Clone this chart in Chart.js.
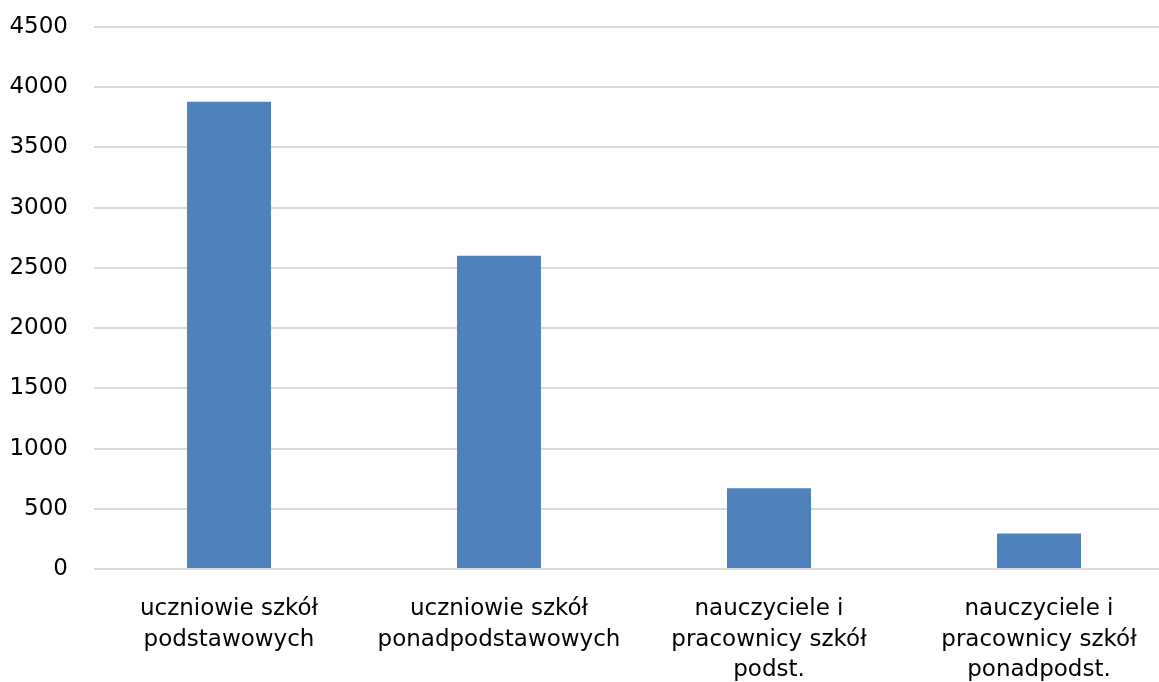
<!DOCTYPE html>
<html>
<head>
<meta charset="utf-8">
<script src="https://cdn.jsdelivr.net/npm/chart.js@4/dist/chart.umd.min.js"></script>
<style>
  html, body { margin: 0; padding: 0; background: #fff; overflow: hidden; }
  #wrap { position: relative; width: 1174px; height: 682px; }
</style>
</head>
<body>
<div id="wrap"><canvas id="chart"></canvas></div>
<script>
// Categories (multi-line labels) and their values
const categories = [
  ['uczniowie szkół', 'podstawowych'],
  ['uczniowie szkół', 'ponadpodstawowych'],
  ['nauczyciele i', 'pracownicy szkół', 'podst.'],
  ['nauczyciele i', 'pracownicy szkół', 'ponadpodst.']
];
const values = [3880, 2600, 670, 295];
const yTicks = [0, 500, 1000, 1500, 2000, 2500, 3000, 3500, 4000, 4500];

const FONT = { family: '"DejaVu Sans", Verdana, sans-serif', size: 23 };

new Chart(document.getElementById('chart'), {
  type: 'bar',
  data: {
    labels: categories,
    datasets: [{
      data: values,
      backgroundColor: '#4f81bd',
      borderWidth: 0,
      barPercentage: 1,
      categoryPercentage: 0.311
    }]
  },
  options: {
    responsive: true,
    maintainAspectRatio: false,
    animation: false,
    layout: { padding: { top: 27, right: 0, bottom: 0, left: 0 } },
    plugins: { legend: { display: false }, tooltip: { enabled: false } },
    scales: {
      x: {
        grid: { display: false, drawTicks: false },
        border: { display: false },
        ticks: {
          color: '#000',
          font: { ...FONT, lineHeight: 1.33 },
          padding: 25,
          maxRotation: 0,
          autoSkip: false
        },
        afterFit: (s) => {
          s.height = 113;
          s.paddingLeft = 0; s.paddingRight = 0;
          s.paddingTop = 0; s.paddingBottom = 0;
        }
      },
      y: {
        min: 0,
        max: 4500,
        afterBuildTicks: (s) => { s.ticks = yTicks.map(v => ({ value: v })); },
        grid: { color: '#d9d9d9', lineWidth: 2, drawTicks: false },
        border: { display: false },
        ticks: {
          color: '#000',
          font: FONT,
          padding: 26,
          callback: (v) => String(v)
        },
        afterFit: (s) => {
          s.width = 94;
          s.paddingTop = 0; s.paddingBottom = 0;
          s.paddingLeft = 0; s.paddingRight = 0;
        }
      }
    }
  }
});
</script>
</body>
</html>
